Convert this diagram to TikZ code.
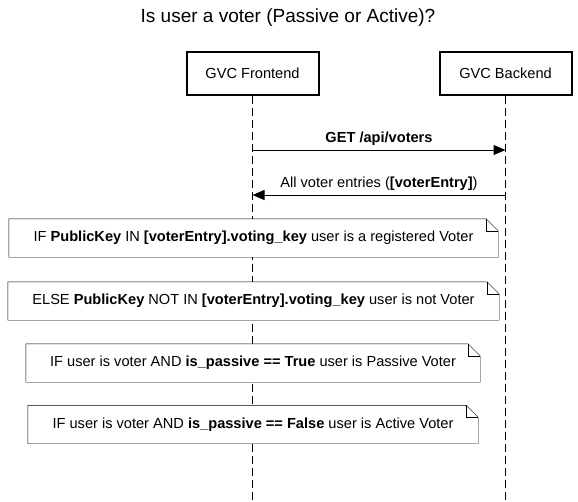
\documentclass[tikz,border=0pt]{standalone}
\usepackage{fontspec}
\setmainfont{Liberation Sans}
\usetikzlibrary{arrows.meta}

\begin{document}
\begin{tikzpicture}[x=1pt,y=-1pt,font=\fontsize{14.6}{17}\selectfont,
    actor/.style={draw, line width=2pt, minimum width=132pt, minimum height=43pt, inner sep=0pt},
    lifeline/.style={dash pattern=on 8pt off 4pt, line width=1pt},
    msg/.style={line width=1pt, -{Triangle[length=12pt,width=10pt]}},
    notebox/.style={fill=white, minimum height=38pt, inner sep=0pt}]
  \useasboundingbox (0,0) rectangle (578,501);
  \node (title) at (288,18) {\fontsize{19}{22}\selectfont Is user a voter (Passive or Active)?};
  \node[actor] (fe) at (252.5,73) {GVC Frontend};
  \node[actor] (be) at (505.5,73) {GVC Backend};
  \coordinate (feend) at (252.5,501);
  \coordinate (beend) at (505.5,501);
  \draw[lifeline] (fe) -- (feend);
  \draw[lifeline] (be) -- (beend);

  % messages
  \coordinate (fe1) at (252.5,150);
  \coordinate (be1) at (505.5,150);
  \coordinate (fe2) at (252.5,195);
  \coordinate (be2) at (505.5,195);
  \draw[msg] (fe1) -- node[above=1pt] {\textbf{GET /api/voters}} (be1);
  \draw[msg] (be2) -- node[above=1pt] {All voter entries (\textbf{[voterEntry]})} (fe2);

  % notes
  \node[notebox, minimum width=489pt] (n1) at (253.5,238) {IF \textbf{PublicKey} IN \textbf{[voterEntry].voting\_key} user is a registered Voter};
  \node[notebox, minimum width=491pt] (n2) at (253.5,301) {ELSE \textbf{PublicKey} NOT IN \textbf{[voterEntry].voting\_key} user is not Voter};
  \node[notebox, minimum width=454pt] (n3) at (253,363) {IF user is voter AND \textbf{is\_passive == True} user is Passive Voter};
  \node[notebox, minimum width=450pt] (n4) at (253,424.5) {IF user is voter AND \textbf{is\_passive == False} user is Active Voter};
  \foreach \n in {n1,n2,n3,n4} {
    \draw (\n.north west) -- ([xshift=-12pt]\n.north east) -- ([yshift=-12pt]\n.north east) -- (\n.south east) -- (\n.south west) -- cycle;
    \draw ([xshift=-12pt]\n.north east) -- ([xshift=-12pt,yshift=-12pt]\n.north east) -- ([yshift=-12pt]\n.north east);
  }
\end{tikzpicture}
\end{document}
